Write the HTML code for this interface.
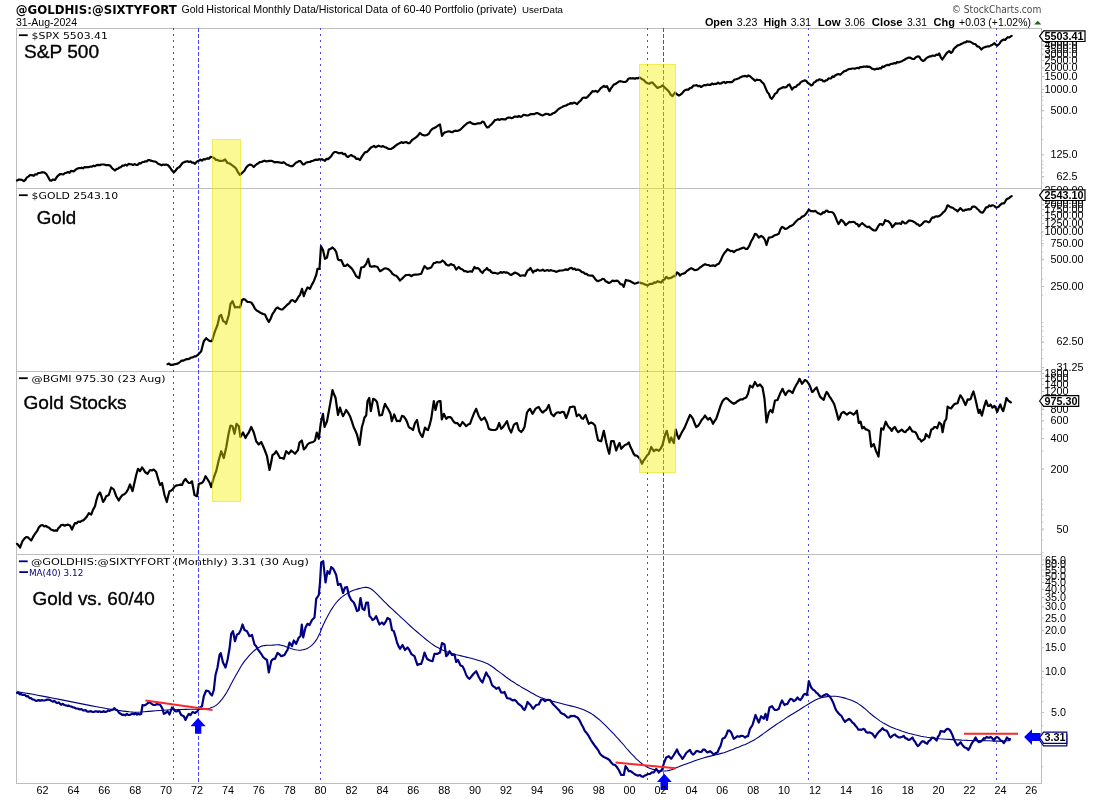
<!DOCTYPE html>
<html><head><meta charset="utf-8"><title>Gold vs 60/40</title>
<style>html,body{margin:0;padding:0;background:#fff}svg{display:block}.a{font-family:"Liberation Sans",Arial,sans-serif}.v{font-family:"DejaVu Sans",Verdana,sans-serif}.ax{font-family:"Liberation Sans",Arial,sans-serif;font-size:10px;fill:#000;text-anchor:end}.yr{font-family:"Liberation Sans",Arial,sans-serif;font-size:10px;fill:#000;text-anchor:middle}.lb{font-family:"Liberation Sans",Arial,sans-serif;font-size:10px;font-weight:bold;fill:#000}.big{font-family:"Liberation Sans",Arial,sans-serif;font-size:19px;fill:#000;stroke:#000;stroke-width:0.35px}.lg{font-family:"DejaVu Sans",Verdana,sans-serif;font-size:9px;fill:#000}</style></head><body>
<svg width="1100" height="800" viewBox="0 0 1100 800">
<rect width="1100" height="800" fill="#fff"/>
<text class="v" x="15.8" y="13.6" font-size="12.4" font-weight="bold" textLength="161" lengthAdjust="spacingAndGlyphs">@GOLDHIS:@SIXTYFORT</text>
<text class="a" x="181.5" y="13.2" font-size="11" textLength="22.3" lengthAdjust="spacingAndGlyphs">Gold</text>
<text class="a" x="206.3" y="13.2" font-size="11" textLength="44" lengthAdjust="spacingAndGlyphs">Historical</text>
<text class="a" x="253.3" y="13.2" font-size="11" textLength="37.3" lengthAdjust="spacingAndGlyphs">Monthly</text>
<text class="a" x="293.3" y="13.2" font-size="11" textLength="69.3" lengthAdjust="spacingAndGlyphs">Data/Historical</text>
<text class="a" x="365.3" y="13.2" font-size="11" textLength="22.8" lengthAdjust="spacingAndGlyphs">Data</text>
<text class="a" x="391.3" y="13.2" font-size="11" textLength="9" lengthAdjust="spacingAndGlyphs">of</text>
<text class="a" x="403.5" y="13.2" font-size="11" textLength="27.8" lengthAdjust="spacingAndGlyphs">60-40</text>
<text class="a" x="434.3" y="13.2" font-size="11" textLength="39.3" lengthAdjust="spacingAndGlyphs">Portfolio</text>
<text class="a" x="476.3" y="13.2" font-size="11" textLength="40.5" lengthAdjust="spacingAndGlyphs">(private)</text>
<text class="a" x="522" y="13" font-size="8.5" textLength="41" lengthAdjust="spacingAndGlyphs">UserData</text>
<text class="a" x="16" y="26" font-size="11" textLength="61" lengthAdjust="spacingAndGlyphs">31-Aug-2024</text>
<text class="v" x="951.8" y="12.7" font-size="10" fill="#484848" textLength="89.5" lengthAdjust="spacingAndGlyphs">© StockCharts.com</text>
<text class="a" x="704.9" y="25.7" font-size="11" font-weight="bold" textLength="27.8" lengthAdjust="spacingAndGlyphs">Open</text>
<text class="a" x="736.8" y="25.7" font-size="11" textLength="20.5" lengthAdjust="spacingAndGlyphs">3.23</text>
<text class="a" x="763.8" y="25.7" font-size="11" font-weight="bold" textLength="22.9" lengthAdjust="spacingAndGlyphs">High</text>
<text class="a" x="790.8" y="25.7" font-size="11" textLength="20.2" lengthAdjust="spacingAndGlyphs">3.31</text>
<text class="a" x="817.8" y="25.7" font-size="11" font-weight="bold" textLength="22.9" lengthAdjust="spacingAndGlyphs">Low</text>
<text class="a" x="844.8" y="25.7" font-size="11" textLength="20.2" lengthAdjust="spacingAndGlyphs">3.06</text>
<text class="a" x="871.8" y="25.7" font-size="11" font-weight="bold" textLength="30.9" lengthAdjust="spacingAndGlyphs">Close</text>
<text class="a" x="906.9" y="25.7" font-size="11" textLength="20" lengthAdjust="spacingAndGlyphs">3.31</text>
<text class="a" x="933.6" y="25.7" font-size="11" font-weight="bold" textLength="21.3" lengthAdjust="spacingAndGlyphs">Chg</text>
<text class="a" x="959.1" y="25.7" font-size="11" textLength="71.8" lengthAdjust="spacingAndGlyphs">+0.03 (+1.02%)</text>
<polygon points="1034,24.6 1041.4,24.6 1037.7,20.8" fill="#1c6b1c"/>
<g stroke="#bdbdbd" stroke-width="1" fill="none">
<rect x="16.5" y="28.5" width="1025.0" height="755.0"/>
<line x1="16.5" y1="188.5" x2="1041.5" y2="188.5"/>
<line x1="16.5" y1="371.5" x2="1041.5" y2="371.5"/>
<line x1="16.5" y1="554.5" x2="1041.5" y2="554.5"/>
</g>
<line x1="173.5" y1="28" x2="173.5" y2="783" stroke="#4646ff" stroke-width="1" stroke-dasharray="2 4"/>
<line x1="320.5" y1="28" x2="320.5" y2="783" stroke="#4646ff" stroke-width="1" stroke-dasharray="2 4"/>
<line x1="647.5" y1="28" x2="647.5" y2="783" stroke="#4646ff" stroke-width="1" stroke-dasharray="2 4"/>
<line x1="808.5" y1="28" x2="808.5" y2="783" stroke="#4646ff" stroke-width="1" stroke-dasharray="2 4"/>
<line x1="996.5" y1="28" x2="996.5" y2="783" stroke="#4646ff" stroke-width="1" stroke-dasharray="2 4"/>
<line x1="198.5" y1="28" x2="198.5" y2="783" stroke="#4646ff" stroke-width="1" stroke-dasharray="4 2"/>
<line x1="663.5" y1="28" x2="663.5" y2="783" stroke="#4646ff" stroke-width="1" stroke-dasharray="4 2"/>
<polyline points="17.0,180.5 18.5,179.7 20.0,179.5 21.9,179.8 23.8,181.2 25.3,179.9 26.9,177.4 28.4,176.6 30.0,175.0 31.9,175.1 33.8,175.8 35.2,174.3 36.8,174.5 38.2,173.0 39.8,173.0 41.2,172.5 42.9,172.2 44.6,172.6 46.2,173.8 48.1,177.0 50.0,180.5 51.5,180.6 53.0,179.5 55.0,180.0 56.9,176.9 58.8,175.0 60.3,174.0 61.9,174.2 63.4,174.3 65.0,173.0 66.5,172.8 68.0,172.1 69.5,172.8 71.0,170.8 72.5,171.2 74.0,171.3 75.5,169.7 77.0,168.8 78.5,168.2 80.0,168.2 81.5,167.7 83.0,168.3 84.5,167.0 86.0,167.4 87.5,167.0 89.0,167.1 90.5,166.5 92.0,166.6 93.5,165.7 95.0,166.2 96.6,165.1 98.1,164.9 99.7,165.2 101.2,164.5 102.7,164.5 104.2,164.5 105.6,165.1 107.1,165.1 108.5,165.0 110.0,165.5 111.7,167.7 113.3,169.2 115.0,170.5 116.5,169.1 118.0,168.6 119.5,167.5 121.0,167.1 122.5,165.5 124.0,165.6 125.5,164.6 127.0,165.6 128.5,163.9 130.0,164.2 131.5,164.3 133.0,165.0 134.5,164.1 136.0,164.8 137.5,165.0 139.2,163.2 140.8,163.3 142.5,162.0 143.9,162.0 145.3,161.3 146.7,161.4 148.1,160.1 149.5,160.0 150.8,160.7 152.2,161.0 153.6,161.3 154.9,161.5 156.2,162.0 158.1,163.8 160.0,164.5 161.6,165.3 163.1,164.5 164.7,164.8 166.2,164.5 168.1,165.3 170.0,167.5 171.9,170.3 173.8,172.5 175.6,170.5 177.5,168.0 179.2,167.2 180.8,165.2 182.5,163.0 184.2,162.1 185.8,161.6 187.5,161.2 189.0,162.0 190.5,161.4 192.0,162.7 193.5,162.7 195.0,163.8 196.9,161.6 198.8,160.8 200.3,159.7 201.9,160.6 203.4,159.2 205.0,159.5 206.4,158.6 207.8,158.3 209.2,158.6 210.6,156.8 212.0,157.0 213.4,157.7 214.8,158.6 216.1,159.9 217.5,160.0 219.4,160.9 221.2,160.8 223.1,160.7 225.0,159.5 227.5,163.0 229.4,163.4 231.2,164.5 232.9,165.8 234.6,167.1 236.2,168.8 238.1,172.5 240.0,175.0 242.5,172.5 244.4,170.8 246.2,167.5 248.1,165.4 250.0,164.5 251.9,165.2 253.8,167.0 255.3,165.3 256.9,164.0 258.4,163.2 260.0,162.0 261.5,162.0 263.0,161.3 264.5,160.7 266.0,161.3 267.5,161.2 270.0,160.8 271.5,160.8 273.0,161.4 274.5,162.3 276.0,162.1 277.5,162.0 279.0,162.3 280.5,162.7 282.0,163.0 283.5,162.2 285.0,163.2 286.5,164.5 288.0,164.9 289.5,165.7 291.0,166.2 292.5,166.2 294.4,164.2 296.2,162.5 297.7,161.9 299.1,161.0 300.5,161.2 303.0,164.5 304.4,164.2 305.8,162.8 307.2,162.3 308.6,162.0 310.0,162.0 311.5,161.0 313.0,160.9 314.5,160.0 316.0,159.6 317.5,160.0 319.0,159.2 320.5,159.5 322.0,159.2 323.5,160.1 325.0,160.8 326.6,158.8 328.1,159.1 329.7,157.6 331.2,156.2 332.9,153.5 334.5,152.0 335.9,152.0 337.3,152.6 338.8,153.2 340.3,153.1 341.9,152.9 343.4,154.2 345.0,153.8 346.5,156.2 348.0,157.0 349.6,155.9 351.2,155.0 352.9,156.2 354.6,156.8 356.2,158.8 358.1,158.7 360.0,160.0 361.9,156.6 363.8,153.8 365.4,152.1 367.1,151.8 368.8,150.0 370.6,147.8 372.5,146.8 374.0,145.8 375.5,147.3 377.0,146.5 378.5,145.7 380.0,146.2 381.6,146.6 383.1,146.1 384.7,147.2 386.2,147.5 387.9,148.7 389.6,149.0 391.2,148.8 393.1,147.8 395.0,146.2 396.7,144.8 398.3,143.9 400.0,143.0 401.6,142.2 403.1,143.0 404.7,142.3 406.2,142.0 407.9,143.1 409.5,143.2 410.9,141.5 412.3,139.8 413.8,138.8 415.3,137.8 416.9,136.7 418.4,135.0 420.0,133.0 421.7,134.4 423.3,135.2 425.0,135.5 426.9,135.0 428.8,133.8 430.6,130.8 432.5,128.8 434.4,127.9 436.2,127.0 438.1,125.5 440.0,124.5 442.0,135.8 443.4,133.7 444.8,132.4 446.2,132.0 447.8,131.5 449.2,131.3 450.8,131.9 452.2,132.2 453.8,131.2 455.2,130.7 456.8,131.0 458.2,130.6 459.8,130.0 461.2,128.8 462.8,127.3 464.2,125.8 465.8,124.5 467.2,123.2 468.8,122.5 470.2,122.2 471.8,123.2 473.2,123.9 474.8,124.1 476.2,123.8 477.8,123.4 479.2,123.3 480.8,123.2 482.2,121.6 483.8,122.0 485.4,125.0 487.0,127.5 488.5,127.2 490.0,125.5 491.7,124.1 493.3,122.3 495.0,120.0 496.5,119.8 498.0,119.2 499.5,120.0 501.0,119.1 502.5,119.2 504.0,119.4 505.5,119.4 507.0,118.0 508.5,117.7 510.0,117.5 511.5,118.2 513.0,117.7 514.5,116.6 516.0,116.5 517.5,117.0 519.0,116.0 520.5,116.9 522.0,116.3 523.5,114.8 525.0,115.0 526.5,115.4 528.0,115.5 529.5,114.8 531.0,114.1 532.5,114.2 534.1,114.2 535.6,113.4 537.2,113.0 538.8,113.8 541.2,115.0 542.9,115.4 544.6,114.4 546.2,113.8 547.9,114.0 549.6,115.0 551.2,114.5 552.8,113.3 554.4,112.9 555.9,111.7 557.5,110.0 559.0,108.7 560.5,107.9 562.0,107.1 563.5,106.2 565.0,105.8 566.5,105.4 567.9,104.3 569.4,104.0 570.8,103.0 572.3,103.7 573.8,102.5 575.4,103.1 577.0,104.2 578.4,102.6 579.8,101.3 581.1,100.2 582.5,98.0 584.2,97.5 585.8,98.0 587.5,97.0 589.2,95.1 590.8,93.2 592.5,91.2 594.2,91.5 595.8,90.9 597.5,92.0 599.2,90.2 600.8,88.1 602.5,87.0 604.0,85.9 605.5,87.0 607.0,86.2 609.5,91.2 610.9,88.4 612.3,86.7 613.8,84.5 615.3,84.1 616.9,83.0 618.4,81.8 620.0,81.2 621.7,81.5 623.3,81.8 625.0,82.0 626.7,81.2 628.3,78.8 630.0,78.2 631.7,78.5 633.3,78.2 635.0,78.8 636.5,78.0 638.0,78.4 639.5,77.5 640.9,78.3 642.3,79.3 643.8,80.0 645.6,82.1 647.5,83.2 649.2,83.7 650.8,82.7 652.5,82.5 654.2,84.5 655.8,86.2 657.5,88.0 659.2,87.2 660.8,86.7 662.5,85.5 664.2,86.9 665.8,88.6 667.5,90.0 669.2,92.0 670.8,94.9 672.5,96.2 675.0,92.5 676.9,94.3 678.8,95.5 680.4,94.7 682.1,93.4 683.8,91.2 685.3,90.0 686.9,89.7 688.4,89.6 690.0,88.0 691.7,87.7 693.3,85.7 695.0,85.5 696.6,85.2 698.1,86.2 699.7,85.9 701.2,87.0 702.8,85.9 704.4,85.0 705.9,85.4 707.5,84.5 709.0,84.8 710.5,84.9 712.0,83.5 713.5,84.3 715.0,83.8 716.5,83.8 718.0,82.6 719.5,83.7 721.0,83.5 722.5,82.5 724.0,81.9 725.5,83.1 727.0,82.0 728.5,82.1 730.0,82.0 731.5,82.2 733.0,81.3 734.5,79.5 736.0,79.3 737.5,78.8 739.1,78.2 740.6,77.2 742.2,76.4 743.8,76.2 745.3,75.9 746.9,76.6 748.4,75.4 750.0,76.2 751.7,77.8 753.3,79.1 755.0,80.8 756.7,79.7 758.3,80.0 760.0,80.0 761.9,82.1 763.8,83.8 765.6,88.1 767.5,92.5 768.9,93.8 770.3,97.5 771.8,98.8 773.4,96.7 775.0,93.8 776.7,92.9 778.3,89.7 780.0,88.8 781.7,87.9 783.3,87.1 785.0,87.5 786.5,87.0 788.0,85.1 789.5,84.5 792.0,89.5 793.4,87.7 794.8,87.1 796.1,86.8 797.5,85.0 799.2,84.3 800.8,82.1 802.5,81.2 804.4,80.4 806.2,80.8 807.9,83.0 809.6,84.0 811.2,85.5 812.6,84.7 813.9,82.5 815.3,82.0 816.6,80.3 817.9,80.5 819.2,79.3 820.5,79.8 821.9,79.8 823.2,81.2 824.5,81.4 825.8,80.3 827.2,80.1 828.5,78.3 829.8,78.5 831.1,78.4 832.4,76.3 833.8,76.9 835.1,75.5 836.4,74.8 837.7,74.2 839.0,74.2 840.3,74.6 841.6,73.5 842.9,72.3 844.2,71.2 845.6,71.0 846.9,70.1 848.2,69.4 849.5,69.0 850.8,68.9 852.2,68.5 853.5,68.5 854.8,68.8 856.1,68.2 857.4,67.8 858.8,68.3 860.1,67.2 861.4,67.2 862.7,66.9 864.0,66.5 865.3,66.8 866.7,66.4 868.0,66.9 869.3,66.6 870.6,67.5 871.9,68.6 873.3,69.0 874.6,69.6 876.5,68.7 878.5,68.8 879.8,68.2 881.2,68.4 882.5,66.4 883.8,67.0 885.2,65.8 886.5,65.3 887.8,64.9 889.1,65.1 890.5,64.0 891.8,63.8 893.1,63.7 894.4,63.0 895.7,63.5 897.0,62.0 898.3,62.5 899.7,62.0 901.0,61.5 902.3,60.9 903.6,60.2 904.9,59.6 906.2,58.5 907.6,58.1 908.9,57.5 910.2,57.7 912.2,58.8 914.1,59.0 915.4,57.7 916.8,56.7 918.1,56.4 919.4,56.8 920.8,59.2 922.1,60.4 923.4,60.9 924.7,60.2 926.0,58.5 927.3,57.5 928.6,56.9 929.9,56.3 931.2,56.3 932.6,55.5 933.9,55.8 935.2,55.6 936.5,54.5 937.9,55.0 939.2,53.5 940.8,57.3 942.3,59.5 944.0,57.0 945.8,54.3 947.5,52.3 949.2,51.1 951.0,53.0 952.3,52.0 953.7,49.1 955.0,47.7 956.3,46.7 957.6,45.3 959.0,45.1 960.3,44.5 961.6,43.7 962.9,43.3 964.2,42.4 965.6,42.4 966.9,41.2 968.2,41.6 969.5,41.7 970.9,42.0 972.2,43.0 973.5,43.7 975.5,44.3 977.4,46.4 978.7,46.6 980.1,48.1 981.4,49.5 983.3,47.7 985.3,46.9 986.6,46.7 988.0,46.3 989.3,46.4 990.6,45.6 992.5,44.7 994.5,43.2 995.9,44.8 997.2,45.6 999.2,44.0 1001.1,41.1 1002.4,40.3 1003.8,39.5 1005.1,40.0 1006.4,38.5 1007.7,37.2 1009.0,37.5 1010.4,36.7 1011.7,35.8" fill="none" stroke="#000" stroke-width="2.2" stroke-linejoin="round" stroke-linecap="round"/>
<polyline points="167.5,364.2 169.0,363.5 170.5,364.8 172.0,364.9 173.5,364.5 175.0,364.2 176.7,363.9 178.3,363.3 180.0,362.0 181.6,360.7 183.1,360.7 184.7,359.9 186.2,359.2 187.9,359.2 189.6,358.6 191.2,357.5 192.8,357.4 194.4,356.4 195.9,356.3 197.5,355.0 199.4,353.4 201.2,351.2 203.8,341.2 206.2,338.2 208.8,340.5 210.4,341.2 212.0,341.2 213.5,335.8 215.0,331.2 217.5,325.0 219.5,316.2 221.2,315.0 223.2,321.2 224.8,321.7 226.2,323.8 228.8,315.0 230.5,303.8 232.5,301.2 235.0,307.5 237.5,307.0 240.0,307.5 242.0,300.0 243.5,299.1 245.0,299.5 247.5,302.0 249.4,302.0 251.2,302.5 253.1,305.0 255.0,308.8 256.7,310.6 258.3,311.3 260.0,312.5 261.7,313.4 263.3,314.0 265.0,314.5 266.9,318.6 268.8,322.0 270.5,319.0 272.5,313.8 274.2,311.6 275.8,308.7 277.5,307.5 279.2,308.7 280.8,309.3 282.5,309.5 284.2,307.8 285.8,306.2 287.5,304.5 289.2,303.3 290.8,300.8 292.5,300.0 295.0,302.0 296.7,300.1 298.3,296.9 300.0,295.0 302.0,288.8 303.8,296.2 305.6,291.2 307.5,287.5 310.0,288.8 311.9,284.6 313.8,281.2 316.2,275.0 317.5,268.8 319.5,268.8 321.0,246.2 323.0,250.0 325.0,258.8 327.0,257.5 328.8,249.5 330.6,248.9 332.5,247.5 334.4,249.2 336.2,252.0 338.0,259.5 339.6,260.2 341.2,260.0 343.8,265.8 345.6,265.9 347.5,264.5 349.2,266.2 350.8,267.6 352.5,269.5 354.4,272.8 356.2,276.2 357.8,277.4 359.2,278.0 361.2,267.5 363.8,267.0 366.2,263.8 368.2,258.8 370.0,266.2 371.7,266.7 373.3,266.4 375.0,266.2 377.5,267.0 380.0,271.2 381.9,270.2 383.8,268.8 385.4,268.3 387.1,268.7 388.8,269.5 390.6,271.2 392.5,273.8 394.4,275.2 396.2,275.8 398.1,277.8 400.0,280.5 401.9,278.9 403.8,277.0 405.6,275.2 407.5,275.0 409.4,274.9 411.2,276.2 413.1,275.0 415.0,274.5 416.6,274.6 418.1,274.5 419.7,274.2 421.2,273.8 422.9,269.6 424.5,266.2 426.0,267.5 427.5,268.8 429.4,268.1 431.2,267.5 433.8,263.0 435.4,262.8 437.1,262.0 438.8,262.5 440.6,262.2 442.5,260.5 444.4,262.0 446.2,264.5 447.8,265.4 449.2,265.4 450.8,264.0 452.2,264.8 453.8,265.0 456.2,269.5 458.8,267.0 460.6,268.8 462.5,269.5 464.2,271.1 465.8,271.1 467.5,272.0 469.0,271.5 470.5,271.3 472.0,271.8 474.5,267.0 476.0,268.3 477.5,268.0 479.2,269.2 480.8,271.5 482.5,273.0 484.0,270.7 485.5,269.7 487.0,268.0 488.4,270.1 489.8,270.0 491.2,272.0 492.9,273.0 494.6,272.8 496.2,273.2 497.8,273.7 499.2,273.1 500.8,272.0 502.2,272.9 503.8,272.0 505.2,272.6 506.8,272.4 508.2,273.0 509.8,274.4 511.2,275.0 513.1,273.7 515.0,272.5 516.7,273.2 518.3,274.1 520.0,275.8 521.7,275.5 523.3,275.4 525.0,275.8 527.5,270.5 529.0,269.8 530.5,268.0 533.0,272.5 534.5,270.7 536.0,270.9 537.5,269.5 539.4,270.6 541.2,270.5 542.8,269.7 544.4,271.0 545.9,270.5 547.5,270.0 549.0,270.9 550.5,270.1 552.0,270.5 553.5,270.8 555.0,271.2 556.5,271.9 558.0,271.1 559.5,270.6 561.0,270.5 562.5,270.5 564.2,270.0 565.8,269.4 567.5,270.0 570.0,268.2 571.5,267.8 573.0,269.3 574.5,268.6 576.0,270.0 577.5,269.5 579.0,269.9 580.5,270.8 582.0,272.1 583.5,272.4 585.0,273.8 586.5,273.9 588.0,275.2 589.5,275.5 591.0,275.7 592.5,275.5 593.9,277.2 595.2,279.1 596.6,280.6 598.0,281.2 599.5,280.5 601.0,280.0 602.5,278.8 604.1,279.0 605.6,281.3 607.2,281.9 608.8,283.0 610.6,282.2 612.5,280.5 614.1,281.1 615.6,280.8 617.2,280.7 618.8,281.8 620.4,284.1 622.1,284.4 623.8,286.8 625.8,280.0 627.1,280.4 628.5,280.6 629.9,281.0 631.2,281.8 632.9,282.7 634.6,283.6 636.2,283.2 638.1,282.5 640.0,282.5 641.5,283.4 643.0,283.4 644.5,284.4 646.0,284.7 647.5,285.5 649.2,284.4 650.8,283.8 652.5,283.8 654.2,282.4 655.8,282.8 657.5,281.2 659.4,281.9 661.2,282.5 662.9,280.1 664.6,279.4 666.2,276.8 668.1,278.3 670.0,278.2 671.7,277.5 673.3,276.3 675.0,276.2 677.0,272.5 678.5,273.5 680.0,275.5 681.7,274.0 683.3,273.6 685.0,273.0 686.6,271.1 688.1,270.2 689.7,269.0 691.2,268.2 692.9,269.0 694.6,270.1 696.2,270.0 698.1,269.2 700.0,267.5 701.7,266.3 703.3,265.2 705.0,264.2 706.7,264.8 708.3,265.0 710.0,265.8 711.7,265.6 713.3,265.3 715.0,266.2 716.9,264.6 718.8,263.8 720.6,260.8 722.5,256.2 724.2,253.3 725.8,251.6 727.5,249.2 729.1,250.2 730.6,251.2 732.2,250.8 733.8,252.0 735.4,250.8 737.1,249.9 738.8,249.5 740.4,248.7 742.1,248.1 743.8,247.5 745.6,248.9 747.5,248.8 749.4,245.6 751.2,241.2 753.1,238.1 755.0,233.8 756.9,234.8 758.8,237.5 761.2,235.8 763.1,237.1 765.0,240.0 766.5,245.0 768.8,237.5 770.4,237.3 772.1,237.0 773.8,235.8 775.4,235.0 777.1,234.6 778.8,233.8 780.4,229.4 782.0,226.8 783.5,227.6 785.0,228.8 786.7,228.6 788.3,227.6 790.0,226.2 791.7,225.6 793.3,224.6 795.0,222.5 796.7,220.8 798.3,219.3 800.0,218.8 801.7,216.9 803.3,216.3 805.0,215.0 806.9,212.6 808.8,209.5 810.6,211.1 812.5,211.2 813.9,211.4 815.3,210.8 816.6,212.0 817.9,213.1 819.2,213.5 820.5,214.5 821.8,213.8 823.1,212.2 824.5,212.6 825.8,210.9 827.1,210.6 828.4,211.9 829.7,212.0 831.1,212.0 832.4,212.3 833.7,213.5 835.3,216.6 836.9,220.7 838.5,224.0 839.8,222.2 841.1,219.8 842.6,220.9 844.1,222.6 845.6,225.1 847.5,223.5 849.5,221.9 850.8,222.2 852.1,222.0 853.5,221.8 854.8,222.4 856.1,223.9 857.5,224.2 858.8,226.4 860.5,224.5 862.2,223.2 863.8,224.5 865.4,225.9 867.3,227.1 869.3,226.7 870.6,228.2 872.0,229.3 874.0,230.5 875.9,230.3 877.2,228.2 878.6,225.6 879.9,224.0 881.2,224.1 882.5,225.1 883.8,223.4 885.1,220.1 886.4,221.0 887.8,221.0 889.1,221.9 890.7,223.7 892.3,227.2 894.0,225.2 895.7,223.2 897.0,223.7 898.4,223.5 899.7,223.4 901.0,224.0 902.3,221.4 903.6,222.3 904.9,223.3 906.2,223.2 907.5,221.9 908.9,220.7 910.2,220.6 912.2,221.0 914.1,221.9 915.4,222.8 916.8,224.2 918.1,224.4 919.4,225.9 920.7,225.3 922.0,224.1 923.4,222.5 924.7,221.4 926.7,221.4 928.6,222.4 929.9,221.5 931.3,218.7 932.6,217.4 933.9,217.7 935.2,216.5 936.6,216.3 937.9,216.6 939.8,215.7 941.8,214.0 943.1,212.4 944.5,211.4 946.0,209.1 947.6,205.3 949.3,206.3 951.0,207.4 952.8,207.8 954.5,209.3 956.0,209.9 957.6,211.4 959.0,209.7 960.3,208.2 961.6,209.3 962.9,210.6 964.2,210.6 965.5,209.7 966.9,209.8 968.2,209.1 969.5,209.3 970.8,209.2 972.2,206.9 973.5,206.6 974.8,206.7 976.1,207.6 977.4,209.0 978.7,210.0 980.0,211.6 981.4,212.5 982.7,212.7 984.4,210.4 986.1,207.4 987.7,207.2 989.3,205.3 990.6,206.2 991.9,205.4 993.2,205.4 994.5,206.1 995.9,207.5 997.2,207.4 998.8,206.5 1000.3,204.8 1002.0,203.4 1003.8,203.5 1005.1,201.8 1006.4,199.5 1007.7,198.6 1009.0,198.2 1010.4,196.9 1011.7,196.1" fill="none" stroke="#000" stroke-width="2.2" stroke-linejoin="round" stroke-linecap="round"/>
<polyline points="17.0,543.8 18.5,545.3 20.0,547.5 22.5,541.2 24.4,538.6 26.2,537.0 27.9,537.3 29.6,539.0 31.2,540.5 33.1,536.9 35.0,533.8 36.9,531.4 38.8,527.5 40.6,525.6 42.5,525.0 44.2,526.5 45.8,525.8 47.5,527.0 49.2,527.8 50.8,529.5 52.5,530.0 54.0,530.8 55.5,530.4 57.0,530.8 58.4,528.1 59.8,526.9 61.2,525.0 62.9,524.8 64.6,525.7 66.2,525.0 68.1,524.7 70.0,525.5 72.0,529.5 73.5,526.0 75.0,523.0 76.7,523.3 78.3,521.5 80.0,522.0 81.7,520.8 83.3,520.4 85.0,518.8 86.9,516.5 88.8,513.2 91.2,514.5 93.1,509.6 95.0,506.2 96.5,499.8 98.0,495.0 100.0,492.5 101.5,496.5 103.0,502.0 104.6,499.8 106.2,496.2 108.8,495.0 111.2,487.5 113.8,489.5 116.2,496.2 118.8,500.5 120.6,497.3 122.5,495.0 124.4,494.2 126.2,492.5 128.1,489.2 130.0,484.5 132.5,491.2 134.4,482.9 136.2,475.0 138.0,468.8 140.0,471.2 142.0,467.5 143.5,469.4 145.0,472.0 147.5,473.8 150.0,470.0 151.9,470.5 153.8,469.5 156.2,472.0 158.1,478.7 160.0,485.0 162.0,483.0 164.5,495.0 166.8,502.0 168.1,496.2 169.5,491.2 171.0,490.7 172.5,489.5 175.0,486.2 176.9,485.3 178.8,485.0 180.4,484.6 182.0,485.0 183.8,481.0 185.5,478.8 187.1,481.3 188.8,483.0 190.4,482.8 192.0,481.2 194.5,495.0 197.0,496.2 198.8,483.8 200.6,483.4 202.5,482.5 204.0,480.1 205.5,476.2 208.0,480.0 209.6,482.7 211.2,487.0 213.8,477.5 216.2,471.2 218.8,460.0 221.2,451.2 223.8,458.0 226.2,447.5 228.8,432.5 230.5,425.5 232.5,426.2 234.5,433.8 236.5,423.8 238.8,426.2 240.5,437.0 243.0,432.5 245.5,438.0 247.1,434.8 248.8,432.5 251.2,427.0 253.8,432.5 256.2,441.2 258.8,444.5 261.2,442.0 262.9,445.7 264.5,449.5 267.0,456.2 269.5,470.0 271.0,463.3 272.5,455.0 274.4,453.9 276.2,451.2 278.1,454.4 280.0,458.0 281.9,458.0 283.8,458.8 286.2,451.2 288.8,453.8 291.2,450.5 293.1,452.0 295.0,453.8 296.5,451.9 298.0,450.0 299.5,442.5 301.8,440.5 303.8,449.5 305.6,447.7 307.5,444.5 309.4,443.0 311.2,442.5 313.1,442.0 315.0,440.5 316.8,432.5 318.8,438.8 320.8,423.0 323.0,413.8 324.5,427.0 327.0,421.2 329.5,407.5 331.0,399.2 332.5,390.0 334.0,394.3 335.5,397.5 338.0,415.0 340.0,407.5 341.5,412.3 343.0,416.2 344.6,413.3 346.2,410.0 348.1,412.8 350.0,416.2 351.9,421.6 353.8,427.5 355.4,430.8 357.0,434.5 359.5,445.0 361.8,427.5 363.1,423.0 364.5,417.5 366.2,415.5 367.5,401.2 369.2,398.0 370.8,411.2 373.2,398.8 375.1,399.7 377.0,402.0 379.5,415.5 382.0,415.0 383.5,408.9 385.0,403.8 386.5,406.7 388.0,408.8 390.5,413.8 391.8,421.2 394.2,414.5 396.8,421.2 398.4,420.8 400.0,421.2 402.0,415.8 403.8,416.5 405.5,418.8 407.1,422.1 408.8,427.0 410.2,428.1 411.6,428.7 413.0,430.0 415.0,423.0 417.0,420.0 419.2,431.2 420.9,434.9 422.5,437.0 425.0,427.5 426.5,429.4 428.0,430.0 429.6,425.2 431.2,418.8 433.8,401.2 435.5,410.0 437.5,402.0 439.0,401.2 440.5,401.2 441.8,419.5 443.8,413.8 446.2,418.8 448.1,417.2 450.0,417.0 451.5,418.1 453.0,420.7 454.5,422.5 456.0,423.2 457.5,423.2 460.0,426.2 462.5,422.0 464.4,424.0 466.2,426.2 468.1,424.5 470.0,423.8 471.9,418.6 473.8,413.8 476.2,408.8 478.8,416.2 481.2,420.0 482.9,419.0 484.5,417.5 487.0,422.5 488.8,428.8 490.6,429.7 492.5,430.0 494.0,430.0 495.5,429.8 497.0,428.8 499.2,423.0 501.2,428.8 502.9,427.2 504.5,425.0 507.0,421.2 509.2,428.8 511.2,432.5 513.8,425.0 515.4,423.5 517.0,423.2 518.8,430.0 521.2,432.0 522.9,430.1 524.5,427.0 527.0,412.5 528.5,410.3 530.0,408.8 532.5,413.8 534.0,411.4 535.5,408.8 537.1,407.7 538.8,407.0 540.6,410.2 542.5,412.5 543.0,412.5 544.6,410.7 546.2,410.0 548.8,405.0 551.2,413.8 553.8,416.2 555.4,413.9 557.0,412.5 558.5,412.3 560.0,413.0 561.9,411.9 563.8,412.0 566.2,418.0 568.1,413.2 570.0,407.0 571.5,407.0 573.0,406.5 574.5,406.8 576.8,416.2 578.8,414.5 580.2,415.7 581.6,418.2 583.0,418.8 585.5,415.0 587.1,419.4 588.8,423.8 591.2,422.5 593.1,423.5 595.0,425.5 596.5,433.3 598.0,440.0 599.6,440.9 601.2,441.2 603.8,430.8 606.2,442.5 607.8,449.0 609.2,453.8 611.2,441.2 613.8,441.2 616.2,450.5 617.9,446.1 619.5,443.0 621.2,448.8 623.1,446.8 625.0,445.0 626.9,444.3 628.8,442.5 630.4,446.8 632.0,450.0 633.5,453.5 635.0,455.5 636.9,455.7 638.8,457.5 640.4,460.3 642.0,463.8 643.5,460.6 645.0,458.8 646.9,455.7 648.8,453.8 651.2,447.0 653.8,451.2 656.2,449.5 658.8,450.8 660.6,448.7 662.5,445.0 665.0,435.0 666.8,430.8 668.1,436.8 669.5,442.5 671.2,437.5 673.8,443.0 675.8,429.5 677.2,434.9 678.8,438.8 680.6,434.8 682.5,431.2 684.4,428.1 686.2,423.8 688.1,419.3 690.0,415.0 691.5,416.5 693.0,418.8 694.6,423.3 696.2,427.0 698.1,425.8 700.0,423.0 701.7,419.8 703.3,418.2 705.0,415.5 706.5,417.7 708.0,419.5 710.0,418.0 711.5,420.4 713.0,423.8 714.6,421.0 716.2,418.8 718.8,411.2 720.6,405.6 722.5,401.2 724.4,399.1 726.2,398.0 728.1,399.2 730.0,401.2 731.9,402.7 733.8,403.8 735.6,402.8 737.5,401.2 739.2,400.2 740.8,399.3 742.5,399.5 744.4,398.2 746.2,397.5 748.0,393.8 750.0,385.5 752.5,387.5 755.0,382.0 757.5,386.2 760.0,384.5 762.5,387.5 764.5,398.8 766.5,422.5 768.8,412.5 770.5,410.0 772.5,412.5 775.0,400.5 777.5,400.0 780.0,393.8 782.5,388.8 784.0,392.2 785.5,395.0 787.1,392.2 788.8,390.5 790.6,391.4 792.5,393.0 794.4,388.5 796.2,385.0 797.9,382.4 799.5,378.8 802.0,383.8 803.5,382.0 805.0,380.0 806.9,381.1 808.8,383.8 810.4,387.2 812.0,392.0 813.2,391.4 814.9,389.2 816.6,387.4 818.3,392.1 820.0,396.6 821.9,398.4 823.7,399.8 825.2,395.2 826.6,391.9 827.9,393.4 829.3,396.3 830.6,398.0 832.5,401.1 834.3,404.5 835.7,409.2 837.1,414.4 838.5,419.8 839.8,417.6 841.1,413.8 842.4,412.5 843.7,411.9 845.3,413.4 846.9,414.6 848.5,413.3 850.1,412.5 851.8,413.4 853.5,414.6 855.2,413.2 856.9,410.6 858.8,423.0 860.6,421.7 862.2,428.3 864.0,427.0 865.4,429.1 866.7,429.6 869.3,430.9 871.2,446.7 873.8,444.1 875.9,450.7 877.2,453.5 878.5,456.7 879.9,442.0 881.2,428.3 883.3,429.6 885.7,421.7 887.2,424.7 888.6,427.0 890.2,428.4 891.7,430.9 893.3,428.1 894.9,427.0 896.6,430.3 898.3,432.2 900.0,430.8 901.7,429.6 903.5,431.4 905.4,432.2 906.8,430.3 908.3,429.4 909.7,427.0 912.3,431.4 913.9,431.7 915.5,432.2 917.0,434.9 918.6,438.8 920.0,439.3 921.3,441.5 923.0,440.2 924.7,438.8 926.0,434.1 927.6,436.0 929.2,437.5 931.3,429.6 932.8,429.0 934.4,427.0 935.8,427.0 937.1,428.3 939.2,422.5 941.3,424.3 942.6,432.2 944.5,421.7 946.3,419.0 947.6,406.7 949.3,407.8 951.0,408.5 952.8,406.0 954.5,404.0 956.0,403.6 957.6,403.2 959.0,398.6 960.3,395.3 961.6,396.9 962.9,399.3 964.2,402.2 965.5,405.1 967.7,399.3 969.2,399.7 970.8,398.7 972.1,394.4 973.5,391.4 974.8,396.6 976.1,401.9 977.4,408.0 978.7,413.0 980.0,409.8 981.9,415.6 984.0,407.2 986.1,400.6 988.0,405.9 989.3,406.0 990.6,404.5 992.4,407.7 994.5,405.9 995.9,408.4 997.2,411.9 998.8,407.6 1000.3,404.5 1001.8,408.6 1003.2,411.1 1004.8,405.4 1006.4,398.0 1008.3,400.6 1009.6,401.5 1010.9,402.4" fill="none" stroke="#000" stroke-width="2.2" stroke-linejoin="round" stroke-linecap="round"/>
<polyline points="17.0,691.8 17.8,691.9 19.4,692.1 21.9,692.5 25.1,693.0 28.8,693.6 32.9,694.3 37.5,695.2 42.5,696.1 47.8,697.1 53.4,698.2 59.4,699.4 65.6,700.6 71.9,701.9 78.1,703.1 84.4,704.4 90.6,705.6 96.6,706.8 102.2,707.8 107.5,708.7 112.5,709.5 117.2,710.2 121.6,710.9 125.6,711.4 129.4,711.8 133.1,712.1 136.9,712.2 140.6,712.0 144.4,711.7 148.1,711.4 151.9,711.1 155.6,710.8 159.4,710.5 163.1,710.2 166.9,710.0 170.6,709.8 174.4,709.7 178.1,709.6 181.9,709.5 185.6,709.4 189.4,709.3 192.8,709.3 195.9,709.3 198.8,709.2 201.2,709.2 203.6,709.1 205.8,708.9 207.8,708.6 209.7,708.2 211.4,707.6 213.0,707.0 214.4,706.4 215.6,705.6 216.9,704.7 218.1,703.6 219.4,702.3 220.6,700.9 221.9,699.4 223.1,697.7 224.4,695.9 225.6,694.1 226.9,692.0 228.1,689.8 229.4,687.5 230.6,685.0 231.9,682.6 233.1,680.2 234.4,678.0 235.6,675.8 236.9,673.6 238.1,671.4 239.4,669.2 240.6,667.0 241.9,665.0 243.1,663.1 244.4,661.4 245.6,659.8 246.9,658.3 248.1,656.9 249.4,655.4 250.6,654.1 251.9,652.8 253.1,651.6 254.4,650.5 255.6,649.5 256.9,648.6 258.1,647.8 259.4,647.2 260.6,646.6 261.9,646.1 263.1,645.8 264.4,645.6 265.6,645.4 266.8,645.3 268.0,645.3 269.2,645.2 270.3,645.2 271.6,645.2 273.0,645.1 274.5,645.0 276.2,644.8 277.9,644.8 279.5,644.9 281.1,645.2 282.7,645.6 284.3,646.1 286.0,646.7 287.8,647.4 289.7,648.1 291.6,648.8 293.4,649.3 295.3,649.7 297.2,650.0 299.1,650.2 300.9,650.1 302.8,649.8 304.7,649.4 306.5,648.8 308.2,647.9 309.8,646.9 311.4,645.6 312.9,644.2 314.3,642.7 315.6,640.9 316.9,639.1 318.0,637.0 319.1,634.8 320.2,632.5 321.1,630.0 322.1,627.5 323.2,625.0 324.4,622.5 325.6,620.0 326.9,617.6 328.1,615.2 329.4,613.0 330.6,610.8 332.0,608.6 333.4,606.5 334.8,604.5 336.4,602.5 338.0,600.7 339.5,599.1 341.1,597.6 342.7,596.4 344.3,595.2 346.0,594.1 347.8,593.0 349.7,592.0 351.6,591.1 353.4,590.3 355.3,589.7 357.2,589.1 359.0,588.6 360.7,588.2 362.3,587.8 363.9,587.5 365.4,587.3 366.8,587.4 368.1,587.7 369.4,588.1 370.7,588.8 372.1,589.7 373.6,590.9 375.2,592.3 377.0,594.1 379.0,596.1 381.2,598.4 383.8,601.1 386.4,603.7 389.2,606.5 392.2,609.2 395.3,612.0 398.4,614.9 401.6,617.8 404.7,620.7 407.8,623.6 410.9,626.5 414.1,629.3 417.2,632.0 420.3,634.7 423.3,637.2 426.1,639.5 428.8,641.6 431.2,643.4 433.8,645.2 436.2,646.7 438.8,648.1 441.2,649.4 443.8,650.5 446.2,651.5 448.8,652.5 451.2,653.3 453.8,654.0 456.2,654.7 458.8,655.3 461.2,655.9 463.8,656.5 466.2,657.1 468.8,657.7 471.2,658.3 473.8,659.0 476.2,659.7 478.8,660.5 481.2,661.3 483.4,662.0 485.3,662.8 486.9,663.4 488.1,664.1 489.7,665.0 491.6,666.2 493.8,667.8 496.2,669.7 498.8,671.6 501.2,673.4 503.8,675.3 506.2,677.2 508.8,679.0 511.2,680.7 513.8,682.3 516.2,683.9 518.8,685.4 521.2,686.9 523.8,688.4 526.2,689.8 528.8,691.3 531.2,692.7 533.8,694.1 536.2,695.4 538.8,696.7 541.2,697.7 543.8,698.6 546.2,699.4 549.1,700.2 552.2,701.1 555.6,702.0 559.4,703.0 563.1,704.0 566.9,705.0 570.6,705.9 574.4,706.8 577.8,707.8 580.9,708.8 583.8,709.8 586.2,710.9 588.8,712.2 591.2,713.6 593.8,715.3 596.2,717.2 598.8,719.2 601.2,721.4 603.8,723.8 606.2,726.2 608.8,728.8 611.2,731.3 613.8,733.9 616.2,736.6 618.8,739.3 621.2,742.1 623.8,745.0 626.2,748.0 628.8,750.9 631.2,753.6 633.8,756.2 636.2,758.8 638.6,760.9 640.8,762.8 642.8,764.4 644.7,765.6 646.6,766.7 648.4,767.7 650.3,768.4 652.2,769.1 654.1,769.6 655.9,770.1 657.8,770.5 659.7,770.8 661.6,771.0 663.4,771.0 665.3,771.0 667.2,770.8 669.2,770.4 671.4,769.8 673.8,768.9 676.2,767.8 678.8,766.8 681.2,765.8 683.8,764.8 686.2,763.9 688.9,762.9 691.7,761.9 694.7,760.8 697.8,759.7 700.9,758.7 704.1,757.7 707.2,756.9 710.3,756.1 713.3,755.4 716.1,754.7 718.8,754.1 721.2,753.4 723.9,752.7 726.7,751.7 729.7,750.6 732.8,749.4 735.9,748.1 739.1,746.9 742.2,745.6 745.3,744.4 748.3,743.0 751.1,741.6 753.8,740.2 756.2,738.6 758.8,737.0 761.2,735.2 763.8,733.4 766.2,731.6 768.8,729.7 771.2,728.0 773.8,726.2 776.2,724.5 778.8,722.9 781.2,721.2 783.8,719.6 786.2,717.9 788.8,716.3 791.2,714.8 793.8,713.2 796.2,711.8 798.7,710.3 801.0,708.8 803.3,707.3 805.5,705.9 807.8,704.5 810.2,703.0 812.7,701.5 815.4,700.0 818.2,698.8 821.1,697.8 824.1,697.1 827.2,696.6 830.1,696.3 832.9,696.2 835.4,696.3 837.7,696.5 840.3,697.0 843.0,697.6 845.9,698.4 849.1,699.4 852.0,700.5 854.7,701.8 857.3,703.1 859.6,704.6 861.9,706.3 864.3,708.2 866.6,710.2 869.0,712.3 871.5,714.5 874.3,716.7 877.2,718.9 880.3,721.1 883.4,723.1 886.6,724.8 889.7,726.4 892.8,727.7 895.9,729.0 899.1,730.1 902.2,731.2 905.3,732.2 908.4,733.2 911.6,734.0 914.7,734.8 917.8,735.5 920.9,736.2 924.1,736.8 927.2,737.3 930.3,737.7 933.4,738.1 936.6,738.5 939.7,738.8 942.8,739.0 945.9,739.2 949.1,739.4 952.2,739.6 955.3,739.8 958.4,739.9 961.6,740.1 964.7,740.2 967.8,740.4 970.9,740.5 974.1,740.6 977.2,740.6 980.3,740.6 983.4,740.6 986.6,740.7 989.7,740.8 992.8,741.0 995.9,741.1 999.1,741.1 1002.2,741.0 1005.3,740.8 1007.7,740.7 1009.2,740.6 1010.0,740.6" fill="none" stroke="#000080" stroke-width="1.1" stroke-linejoin="round" stroke-linecap="round"/>
<polyline points="17.0,693.0 18.3,692.6 19.7,694.4 21.0,693.8 22.3,695.0 23.7,694.9 25.0,695.0 26.5,696.5 28.0,696.2 29.5,698.2 31.0,698.1 32.5,699.5 34.0,699.6 35.5,700.6 37.0,700.8 38.5,700.0 40.0,700.8 41.4,700.2 42.9,700.4 44.3,700.5 45.7,700.1 47.1,699.6 48.6,699.7 50.0,700.0 51.4,700.9 52.9,701.7 54.3,700.8 55.7,702.2 57.1,703.1 58.6,702.4 60.0,703.8 61.4,704.7 62.9,703.8 64.3,705.0 65.7,705.3 67.1,705.8 68.6,705.6 70.0,706.2 71.4,706.6 72.9,707.3 74.3,707.5 75.7,708.4 77.1,708.5 78.6,708.9 80.0,709.5 81.4,709.0 82.8,710.3 84.2,710.3 85.6,710.2 86.9,711.3 88.3,711.6 89.7,711.4 91.1,711.2 92.5,712.0 93.9,712.0 95.3,711.3 96.7,711.4 98.1,711.9 99.4,711.3 100.8,711.9 102.2,712.0 103.6,711.2 105.0,712.0 106.6,711.7 108.1,710.3 109.7,710.9 111.2,710.0 112.9,709.6 114.5,708.2 115.9,709.7 117.3,710.3 118.8,712.5 120.6,713.8 122.5,715.0 123.9,714.6 125.4,715.4 126.8,713.8 128.2,714.9 129.6,715.0 131.1,714.3 132.5,713.8 134.0,714.3 135.4,713.2 136.9,714.6 138.3,713.7 139.8,714.5 141.2,713.8 142.5,705.0 144.4,705.5 146.2,704.5 148.1,702.9 150.0,702.5 151.7,703.8 153.3,704.9 155.0,705.0 156.7,704.1 158.3,704.4 160.0,704.5 162.5,708.8 163.8,713.8 165.6,712.9 167.5,711.2 169.5,714.5 172.0,707.5 173.5,708.8 175.0,711.2 176.9,711.3 178.8,710.0 181.2,715.0 183.8,716.2 185.5,720.0 187.1,716.5 188.8,713.8 190.5,715.0 192.5,712.0 195.0,713.0 197.5,711.2 200.0,707.5 202.0,706.2 203.8,696.2 206.2,690.5 208.8,691.2 210.4,693.9 212.0,695.5 213.8,690.0 215.5,675.0 217.5,667.5 219.5,655.0 220.8,653.2 223.0,662.5 225.5,667.5 227.5,660.0 229.5,648.8 231.2,633.8 233.0,631.2 235.0,641.2 237.0,634.5 238.8,633.8 240.8,630.0 242.5,624.5 244.5,630.0 247.0,631.2 249.5,636.2 252.0,635.0 254.5,644.5 256.0,646.0 257.5,648.8 259.4,651.3 261.2,653.8 263.1,657.0 265.0,658.8 267.0,660.0 268.8,672.5 271.2,661.2 272.0,660.0 273.5,658.9 275.0,658.8 277.5,653.0 279.4,654.2 281.2,656.2 282.9,655.6 284.5,655.0 286.0,652.2 287.5,650.0 289.5,642.5 292.0,646.2 293.8,640.5 296.2,643.8 298.8,637.5 300.5,636.2 301.8,624.5 303.2,637.5 305.5,627.5 307.5,623.8 309.5,625.0 312.0,620.0 314.5,617.5 316.2,598.8 318.8,595.0 320.0,582.5 321.2,562.5 323.2,561.2 325.5,582.5 327.5,571.2 329.5,573.8 331.2,567.0 332.9,568.3 334.5,571.2 336.2,575.0 338.0,585.0 340.5,583.8 343.0,593.0 345.0,587.5 347.0,587.0 348.8,595.0 351.2,600.0 353.8,602.5 355.4,606.3 357.0,611.2 358.8,610.0 360.5,598.0 362.5,608.8 364.5,610.0 366.2,602.5 368.0,602.5 369.5,616.2 371.0,617.5 372.5,620.0 374.4,618.9 376.2,616.2 377.9,620.7 379.5,624.5 382.0,622.5 383.8,624.5 385.6,621.9 387.5,618.0 390.0,619.5 392.0,630.0 393.8,631.2 395.4,636.3 397.0,642.5 398.5,646.1 400.0,648.8 402.5,645.0 405.0,650.0 407.5,647.5 409.4,650.0 411.2,653.8 412.9,655.1 414.5,656.2 416.0,660.9 417.5,665.0 419.4,664.1 421.2,663.8 422.9,658.8 424.5,652.5 427.0,658.8 428.5,659.7 430.0,660.5 432.5,661.2 434.5,653.8 436.0,653.9 437.5,653.8 440.0,652.5 442.0,643.0 444.5,644.5 446.2,656.2 447.9,654.4 449.5,651.2 452.0,655.0 454.5,654.5 456.2,662.0 458.0,660.0 460.5,665.5 462.5,666.2 464.4,670.0 466.2,675.0 467.9,677.7 469.5,678.8 471.2,676.8 473.0,674.5 474.6,672.7 476.2,671.2 478.8,677.0 480.6,680.3 482.5,682.5 484.4,677.1 486.2,672.5 487.9,675.8 489.5,677.5 492.0,685.0 493.4,686.4 494.8,687.3 496.2,688.8 498.8,687.5 501.2,692.5 502.9,692.7 504.5,692.0 507.0,698.0 508.4,698.4 509.8,698.5 511.2,699.5 512.9,700.5 514.6,699.9 516.2,701.2 518.1,703.7 520.0,705.0 521.5,706.2 523.0,708.6 524.5,710.0 526.0,706.8 527.5,702.0 529.0,703.6 530.5,705.0 531.9,707.2 533.2,708.8 534.8,706.6 536.2,705.0 538.8,704.5 541.2,699.5 543.1,699.5 545.0,701.2 546.7,700.0 548.3,699.8 550.0,700.0 551.9,702.7 553.8,705.0 555.6,706.8 557.5,708.8 559.2,710.4 560.8,712.8 562.5,713.8 564.2,714.4 565.8,715.8 567.5,717.5 569.2,717.3 570.8,715.9 572.5,716.2 574.2,715.8 575.8,716.8 577.5,717.5 579.4,720.0 581.2,723.8 583.1,727.3 585.0,731.2 586.9,733.3 588.8,736.2 590.6,739.5 592.5,742.5 594.4,745.2 596.2,747.5 598.1,750.1 600.0,753.8 601.9,755.6 603.8,757.0 605.6,757.8 607.5,758.8 609.4,760.0 611.2,762.5 613.1,764.5 615.0,765.0 616.9,767.1 618.8,770.0 621.2,775.0 623.8,775.0 625.5,766.2 627.1,768.2 628.8,771.2 630.6,771.2 632.5,772.5 634.4,774.0 636.2,775.0 638.1,775.6 640.0,775.0 641.5,776.4 643.0,776.8 644.6,775.7 646.2,775.0 648.1,774.0 650.0,773.8 651.9,772.3 653.8,772.5 656.2,768.8 658.8,772.5 660.4,771.2 662.0,769.5 664.2,762.5 666.2,757.5 668.8,756.2 671.2,758.8 673.8,755.0 675.4,752.4 677.0,749.5 678.8,753.8 680.6,756.0 682.5,758.8 684.4,756.1 686.2,753.0 688.1,751.4 690.0,750.0 691.5,753.0 693.0,754.5 694.6,753.3 696.2,751.2 698.1,751.2 700.0,752.0 701.5,751.9 703.0,749.6 704.5,749.5 706.0,751.1 707.5,752.5 710.0,751.2 711.9,752.7 713.8,754.5 715.6,753.1 717.5,752.5 719.0,748.6 720.5,746.2 722.5,738.8 725.0,737.5 726.5,734.5 728.0,730.5 729.6,730.7 731.2,732.5 733.8,738.8 735.6,737.6 737.5,736.2 739.4,736.7 741.2,735.8 743.1,736.0 745.0,737.5 746.5,736.4 748.0,736.2 750.0,728.8 752.5,725.0 754.0,720.2 755.5,715.0 757.1,718.8 758.8,722.5 761.2,716.2 763.8,718.8 765.5,713.8 767.0,720.0 769.5,707.5 772.0,706.2 773.5,708.4 775.0,710.0 776.9,709.9 778.8,708.8 780.4,704.1 782.0,700.5 784.5,705.0 786.0,704.1 787.5,703.8 789.0,700.9 790.5,698.8 792.1,699.2 793.8,701.2 795.6,700.0 797.5,697.5 799.0,699.2 800.5,700.0 802.1,697.6 803.8,694.5 805.4,693.9 807.0,695.0 808.8,681.2 811.2,687.5 813.0,689.6 814.7,690.6 816.2,692.6 817.8,693.7 819.4,695.7 820.9,696.9 822.5,696.2 824.0,695.2 825.6,694.4 827.2,694.4 828.8,695.8 830.3,697.3 831.9,700.0 833.5,703.4 835.0,707.7 836.6,710.9 838.1,712.8 839.7,714.6 841.2,715.6 843.1,719.1 845.0,721.9 846.3,720.5 847.7,719.9 849.0,718.8 850.6,720.2 852.2,722.3 853.8,723.4 855.3,725.5 856.9,727.2 858.4,729.7 860.0,729.6 861.5,729.9 863.1,728.8 864.7,729.6 866.2,732.1 867.8,732.8 869.4,732.3 870.9,733.0 872.5,733.8 875.0,737.5 876.9,734.3 878.8,731.9 880.6,730.4 882.5,728.1 883.9,729.7 885.2,730.2 886.6,730.6 887.9,732.6 889.3,735.8 890.6,737.5 892.1,736.2 893.5,735.0 895.0,734.4 896.4,736.1 897.7,736.7 899.1,737.5 900.6,737.3 902.2,736.7 903.8,735.9 905.3,738.1 906.9,738.6 908.4,740.0 909.8,739.7 911.1,738.7 912.5,737.5 913.8,740.3 915.1,741.8 916.5,744.4 917.8,746.2 919.4,744.7 920.9,742.6 922.5,741.2 924.1,741.6 925.6,743.1 927.2,743.8 928.8,740.9 930.3,740.3 931.9,737.5 933.5,737.9 935.0,738.8 936.6,740.6 937.9,736.8 939.3,735.1 940.6,731.2 942.5,731.3 944.4,731.9 946.0,729.7 947.5,728.8 949.0,729.2 950.6,731.2 952.2,734.4 953.8,739.1 955.6,742.5 957.5,745.3 959.0,744.0 960.6,742.2 962.0,744.3 963.3,746.1 964.7,747.5 966.5,748.0 968.4,750.0 969.8,747.6 971.1,744.6 972.5,742.2 974.0,740.4 975.6,737.5 977.2,740.4 978.8,742.2 980.6,741.8 982.5,740.0 983.9,738.2 985.2,738.6 986.6,736.9 987.9,737.6 989.3,737.7 990.6,736.9 992.2,738.1 993.8,740.6 995.3,738.2 996.9,736.9 998.8,738.1 1000.6,740.6 1002.2,741.1 1003.8,743.1 1005.3,740.9 1006.9,737.5 1008.5,738.8 1010.0,739.1" fill="none" stroke="#000080" stroke-width="2.2" stroke-linejoin="round" stroke-linecap="round"/>
<rect x="212.5" y="139.5" width="28" height="362" fill="#f4f000" fill-opacity="0.42" stroke="#e6e000" stroke-opacity="0.55" stroke-width="1"/>
<rect x="639.5" y="64.5" width="36" height="408" fill="#f4f000" fill-opacity="0.42" stroke="#e6e000" stroke-opacity="0.55" stroke-width="1"/>
<g stroke="#f52a2a" stroke-width="2" stroke-linecap="butt">
<line x1="145.5" y1="700.5" x2="212.5" y2="710"/>
<line x1="615.5" y1="762.5" x2="675.8" y2="768.3"/>
<line x1="964" y1="733.8" x2="1018" y2="733.8"/>
</g>
<g fill="#0000ff">
<polygon points="198,718 205.8,726.3 201.3,726.3 201.3,733.8 195,733.8 195,726.3 190.5,726.3"/>
<polygon points="664.3,773.8 671.8,782 668,782 668,790 660.5,790 660.5,782 657,782"/>
<polygon points="1024.1,737.1 1032,729.3 1032,733 1040.6,733 1040.6,741.1 1032,741.1 1032,744.9"/>
</g>
<line x1="18.9" y1="35.2" x2="27.7" y2="35.2" stroke="#000" stroke-width="1.8"/>
<text class="lg" x="31.6" y="39" fill="#000" font-size="9" textLength="76.3" lengthAdjust="spacingAndGlyphs" style="fill:#000">$SPX 5503.41</text>
<line x1="18.9" y1="195.2" x2="27.7" y2="195.2" stroke="#000" stroke-width="1.8"/>
<text class="lg" x="31.6" y="199" fill="#000" font-size="9" textLength="86.5" lengthAdjust="spacingAndGlyphs" style="fill:#000">$GOLD 2543.10</text>
<line x1="18.9" y1="378.2" x2="27.7" y2="378.2" stroke="#000" stroke-width="1.8"/>
<text class="lg" x="31.6" y="382" fill="#000" font-size="9" textLength="134" lengthAdjust="spacingAndGlyphs" style="fill:#000">@BGMI 975.30 (23 Aug)</text>
<line x1="18.9" y1="561.3000000000001" x2="27.7" y2="561.3000000000001" stroke="#000080" stroke-width="1.8"/>
<text class="lg" x="30.9" y="565.1" fill="#000" font-size="9" textLength="278" lengthAdjust="spacingAndGlyphs" style="fill:#000">@GOLDHIS:@SIXTYFORT (Monthly) 3.31 (30 Aug)</text>
<line x1="19.3" y1="572.1" x2="28" y2="572.1" stroke="#000080" stroke-width="1.8"/>
<text class="v" x="28.9" y="575.6" font-size="9" fill="#000080" textLength="54.4" lengthAdjust="spacingAndGlyphs">MA(40) 3.12</text>
<text class="big" x="24" y="58.3" textLength="75" lengthAdjust="spacingAndGlyphs">S&amp;P 500</text>
<text class="big" x="36.7" y="223.8" textLength="39.6" lengthAdjust="spacingAndGlyphs">Gold</text>
<text class="big" x="23.5" y="409" textLength="103" lengthAdjust="spacingAndGlyphs">Gold Stocks</text>
<text class="big" x="32.6" y="604.7" textLength="122.2" lengthAdjust="spacingAndGlyphs">Gold vs. 60/40</text>
<text class="ax" x="1077.6" y="45.0" textLength="33.0" lengthAdjust="spacingAndGlyphs">4500.0</text>
<line x1="1041.5" y1="41.5" x2="1044.1" y2="41.5" stroke="#bdbdbd" stroke-width="1"/>
<text class="ax" x="1077.6" y="48.5" textLength="33.0" lengthAdjust="spacingAndGlyphs">4000.0</text>
<line x1="1041.5" y1="45" x2="1044.1" y2="45" stroke="#bdbdbd" stroke-width="1"/>
<text class="ax" x="1077.6" y="52.5" textLength="33.0" lengthAdjust="spacingAndGlyphs">3500.0</text>
<line x1="1041.5" y1="49" x2="1044.1" y2="49" stroke="#bdbdbd" stroke-width="1"/>
<text class="ax" x="1077.6" y="57.5" textLength="33.0" lengthAdjust="spacingAndGlyphs">3000.0</text>
<line x1="1041.5" y1="54" x2="1044.1" y2="54" stroke="#bdbdbd" stroke-width="1"/>
<text class="ax" x="1077.6" y="64.1" textLength="33.0" lengthAdjust="spacingAndGlyphs">2500.0</text>
<line x1="1041.5" y1="60.6" x2="1044.1" y2="60.6" stroke="#bdbdbd" stroke-width="1"/>
<text class="ax" x="1077.6" y="71.3" textLength="33.0" lengthAdjust="spacingAndGlyphs">2000.0</text>
<line x1="1041.5" y1="67.8" x2="1044.1" y2="67.8" stroke="#bdbdbd" stroke-width="1"/>
<text class="ax" x="1077.6" y="80.0" textLength="33.0" lengthAdjust="spacingAndGlyphs">1500.0</text>
<line x1="1041.5" y1="76.5" x2="1044.1" y2="76.5" stroke="#bdbdbd" stroke-width="1"/>
<text class="ax" x="1077.6" y="92.9" textLength="33.0" lengthAdjust="spacingAndGlyphs">1000.0</text>
<line x1="1041.5" y1="89.4" x2="1044.1" y2="89.4" stroke="#bdbdbd" stroke-width="1"/>
<text class="ax" x="1077.6" y="113.9" textLength="27.0" lengthAdjust="spacingAndGlyphs">500.0</text>
<line x1="1041.5" y1="110.4" x2="1044.1" y2="110.4" stroke="#bdbdbd" stroke-width="1"/>
<text class="ax" x="1077.6" y="158.3" textLength="27.0" lengthAdjust="spacingAndGlyphs">125.0</text>
<line x1="1041.5" y1="154.8" x2="1044.1" y2="154.8" stroke="#bdbdbd" stroke-width="1"/>
<text class="ax" x="1077.6" y="180.0" textLength="21.0" lengthAdjust="spacingAndGlyphs">62.5</text>
<line x1="1041.5" y1="176.5" x2="1044.1" y2="176.5" stroke="#bdbdbd" stroke-width="1"/>
<text class="ax" x="1083.6" y="193.5" textLength="39.0" lengthAdjust="spacingAndGlyphs">2500.00</text>
<line x1="1041.5" y1="190" x2="1044.1" y2="190" stroke="#bdbdbd" stroke-width="1"/>
<text class="ax" x="1083.6" y="204.0" textLength="39.0" lengthAdjust="spacingAndGlyphs">2250.00</text>
<line x1="1041.5" y1="200.5" x2="1044.1" y2="200.5" stroke="#bdbdbd" stroke-width="1"/>
<text class="ax" x="1083.6" y="208.3" textLength="39.0" lengthAdjust="spacingAndGlyphs">2000.00</text>
<line x1="1041.5" y1="204.8" x2="1044.1" y2="204.8" stroke="#bdbdbd" stroke-width="1"/>
<text class="ax" x="1083.6" y="212.9" textLength="39.0" lengthAdjust="spacingAndGlyphs">1750.00</text>
<line x1="1041.5" y1="209.4" x2="1044.1" y2="209.4" stroke="#bdbdbd" stroke-width="1"/>
<text class="ax" x="1083.6" y="219.1" textLength="39.0" lengthAdjust="spacingAndGlyphs">1500.00</text>
<line x1="1041.5" y1="215.6" x2="1044.1" y2="215.6" stroke="#bdbdbd" stroke-width="1"/>
<text class="ax" x="1083.6" y="227.0" textLength="39.0" lengthAdjust="spacingAndGlyphs">1250.00</text>
<line x1="1041.5" y1="223.5" x2="1044.1" y2="223.5" stroke="#bdbdbd" stroke-width="1"/>
<text class="ax" x="1083.6" y="235.4" textLength="39.0" lengthAdjust="spacingAndGlyphs">1000.00</text>
<line x1="1041.5" y1="231.9" x2="1044.1" y2="231.9" stroke="#bdbdbd" stroke-width="1"/>
<text class="ax" x="1083.6" y="247.2" textLength="33.0" lengthAdjust="spacingAndGlyphs">750.00</text>
<line x1="1041.5" y1="243.7" x2="1044.1" y2="243.7" stroke="#bdbdbd" stroke-width="1"/>
<text class="ax" x="1083.6" y="263.2" textLength="33.0" lengthAdjust="spacingAndGlyphs">500.00</text>
<line x1="1041.5" y1="259.7" x2="1044.1" y2="259.7" stroke="#bdbdbd" stroke-width="1"/>
<text class="ax" x="1083.6" y="290.0" textLength="33.0" lengthAdjust="spacingAndGlyphs">250.00</text>
<line x1="1041.5" y1="286.5" x2="1044.1" y2="286.5" stroke="#bdbdbd" stroke-width="1"/>
<text class="ax" x="1083.6" y="345.4" textLength="27.0" lengthAdjust="spacingAndGlyphs">62.50</text>
<line x1="1041.5" y1="341.9" x2="1044.1" y2="341.9" stroke="#bdbdbd" stroke-width="1"/>
<text class="ax" x="1083.6" y="371.1" textLength="27.0" lengthAdjust="spacingAndGlyphs">31.25</text>
<line x1="1041.5" y1="367.6" x2="1044.1" y2="367.6" stroke="#bdbdbd" stroke-width="1"/>
<text class="ax" x="1068.6" y="377.0" textLength="24.0" lengthAdjust="spacingAndGlyphs">1800</text>
<line x1="1041.5" y1="373.5" x2="1044.1" y2="373.5" stroke="#bdbdbd" stroke-width="1"/>
<text class="ax" x="1068.6" y="382.2" textLength="24.0" lengthAdjust="spacingAndGlyphs">1600</text>
<line x1="1041.5" y1="378.7" x2="1044.1" y2="378.7" stroke="#bdbdbd" stroke-width="1"/>
<text class="ax" x="1068.6" y="387.9" textLength="24.0" lengthAdjust="spacingAndGlyphs">1400</text>
<line x1="1041.5" y1="384.4" x2="1044.1" y2="384.4" stroke="#bdbdbd" stroke-width="1"/>
<text class="ax" x="1068.6" y="395.0" textLength="24.0" lengthAdjust="spacingAndGlyphs">1200</text>
<line x1="1041.5" y1="391.5" x2="1044.1" y2="391.5" stroke="#bdbdbd" stroke-width="1"/>
<text class="ax" x="1068.6" y="403.5" textLength="24.0" lengthAdjust="spacingAndGlyphs">1000</text>
<line x1="1041.5" y1="400" x2="1044.1" y2="400" stroke="#bdbdbd" stroke-width="1"/>
<text class="ax" x="1068.6" y="412.9" textLength="18.0" lengthAdjust="spacingAndGlyphs">800</text>
<line x1="1041.5" y1="409.4" x2="1044.1" y2="409.4" stroke="#bdbdbd" stroke-width="1"/>
<text class="ax" x="1068.6" y="424.2" textLength="18.0" lengthAdjust="spacingAndGlyphs">600</text>
<line x1="1041.5" y1="420.7" x2="1044.1" y2="420.7" stroke="#bdbdbd" stroke-width="1"/>
<text class="ax" x="1068.6" y="442.1" textLength="18.0" lengthAdjust="spacingAndGlyphs">400</text>
<line x1="1041.5" y1="438.6" x2="1044.1" y2="438.6" stroke="#bdbdbd" stroke-width="1"/>
<text class="ax" x="1068.6" y="472.6" textLength="18.0" lengthAdjust="spacingAndGlyphs">200</text>
<line x1="1041.5" y1="469.1" x2="1044.1" y2="469.1" stroke="#bdbdbd" stroke-width="1"/>
<text class="ax" x="1068.6" y="532.5" textLength="12.0" lengthAdjust="spacingAndGlyphs">50</text>
<line x1="1041.5" y1="529" x2="1044.1" y2="529" stroke="#bdbdbd" stroke-width="1"/>
<text class="ax" x="1066.0" y="563.5" textLength="21.0" lengthAdjust="spacingAndGlyphs">65.0</text>
<line x1="1041.5" y1="560" x2="1044.1" y2="560" stroke="#bdbdbd" stroke-width="1"/>
<text class="ax" x="1066.0" y="567.9" textLength="21.0" lengthAdjust="spacingAndGlyphs">60.0</text>
<line x1="1041.5" y1="564.4" x2="1044.1" y2="564.4" stroke="#bdbdbd" stroke-width="1"/>
<text class="ax" x="1066.0" y="573.5" textLength="21.0" lengthAdjust="spacingAndGlyphs">55.0</text>
<line x1="1041.5" y1="570" x2="1044.1" y2="570" stroke="#bdbdbd" stroke-width="1"/>
<text class="ax" x="1066.0" y="579.7" textLength="21.0" lengthAdjust="spacingAndGlyphs">50.0</text>
<line x1="1041.5" y1="576.2" x2="1044.1" y2="576.2" stroke="#bdbdbd" stroke-width="1"/>
<text class="ax" x="1066.0" y="586.0" textLength="21.0" lengthAdjust="spacingAndGlyphs">45.0</text>
<line x1="1041.5" y1="582.5" x2="1044.1" y2="582.5" stroke="#bdbdbd" stroke-width="1"/>
<text class="ax" x="1066.0" y="592.9" textLength="21.0" lengthAdjust="spacingAndGlyphs">40.0</text>
<line x1="1041.5" y1="589.4" x2="1044.1" y2="589.4" stroke="#bdbdbd" stroke-width="1"/>
<text class="ax" x="1066.0" y="601.0" textLength="21.0" lengthAdjust="spacingAndGlyphs">35.0</text>
<line x1="1041.5" y1="597.5" x2="1044.1" y2="597.5" stroke="#bdbdbd" stroke-width="1"/>
<text class="ax" x="1066.0" y="610.4" textLength="21.0" lengthAdjust="spacingAndGlyphs">30.0</text>
<line x1="1041.5" y1="606.9" x2="1044.1" y2="606.9" stroke="#bdbdbd" stroke-width="1"/>
<text class="ax" x="1066.0" y="621.5" textLength="21.0" lengthAdjust="spacingAndGlyphs">25.0</text>
<line x1="1041.5" y1="618" x2="1044.1" y2="618" stroke="#bdbdbd" stroke-width="1"/>
<text class="ax" x="1066.0" y="634.1" textLength="21.0" lengthAdjust="spacingAndGlyphs">20.0</text>
<line x1="1041.5" y1="630.6" x2="1044.1" y2="630.6" stroke="#bdbdbd" stroke-width="1"/>
<text class="ax" x="1066.0" y="651.3" textLength="21.0" lengthAdjust="spacingAndGlyphs">15.0</text>
<line x1="1041.5" y1="647.8" x2="1044.1" y2="647.8" stroke="#bdbdbd" stroke-width="1"/>
<text class="ax" x="1066.0" y="674.8" textLength="21.0" lengthAdjust="spacingAndGlyphs">10.0</text>
<line x1="1041.5" y1="671.3" x2="1044.1" y2="671.3" stroke="#bdbdbd" stroke-width="1"/>
<text class="ax" x="1066.0" y="716.0" textLength="15.0" lengthAdjust="spacingAndGlyphs">5.0</text>
<line x1="1041.5" y1="712.5" x2="1044.1" y2="712.5" stroke="#bdbdbd" stroke-width="1"/>
<line x1="1041.5" y1="182.8" x2="1043.3" y2="182.8" stroke="#c8c8c8" stroke-width="1"/>
<line x1="1041.5" y1="177.1" x2="1043.3" y2="177.1" stroke="#c8c8c8" stroke-width="1"/>
<line x1="1041.5" y1="172.3" x2="1043.3" y2="172.3" stroke="#c8c8c8" stroke-width="1"/>
<line x1="1041.5" y1="168.1" x2="1043.3" y2="168.1" stroke="#c8c8c8" stroke-width="1"/>
<line x1="1041.5" y1="164.4" x2="1043.3" y2="164.4" stroke="#c8c8c8" stroke-width="1"/>
<line x1="1041.5" y1="161.2" x2="1043.3" y2="161.2" stroke="#c8c8c8" stroke-width="1"/>
<line x1="1041.5" y1="139.6" x2="1043.3" y2="139.6" stroke="#c8c8c8" stroke-width="1"/>
<line x1="1041.5" y1="126.9" x2="1043.3" y2="126.9" stroke="#c8c8c8" stroke-width="1"/>
<line x1="1041.5" y1="118.0" x2="1043.3" y2="118.0" stroke="#c8c8c8" stroke-width="1"/>
<line x1="1041.5" y1="111.0" x2="1043.3" y2="111.0" stroke="#c8c8c8" stroke-width="1"/>
<line x1="1041.5" y1="105.3" x2="1043.3" y2="105.3" stroke="#c8c8c8" stroke-width="1"/>
<line x1="1041.5" y1="100.5" x2="1043.3" y2="100.5" stroke="#c8c8c8" stroke-width="1"/>
<line x1="1041.5" y1="96.4" x2="1043.3" y2="96.4" stroke="#c8c8c8" stroke-width="1"/>
<line x1="1041.5" y1="92.7" x2="1043.3" y2="92.7" stroke="#c8c8c8" stroke-width="1"/>
<line x1="1041.5" y1="89.4" x2="1043.3" y2="89.4" stroke="#c8c8c8" stroke-width="1"/>
<line x1="1041.5" y1="67.8" x2="1043.3" y2="67.8" stroke="#c8c8c8" stroke-width="1"/>
<line x1="1041.5" y1="55.2" x2="1043.3" y2="55.2" stroke="#c8c8c8" stroke-width="1"/>
<line x1="1041.5" y1="46.2" x2="1043.3" y2="46.2" stroke="#c8c8c8" stroke-width="1"/>
<line x1="1041.5" y1="39.2" x2="1043.3" y2="39.2" stroke="#c8c8c8" stroke-width="1"/>
<line x1="1041.5" y1="33.6" x2="1043.3" y2="33.6" stroke="#c8c8c8" stroke-width="1"/>
<line x1="1041.5" y1="369.8" x2="1043.3" y2="369.8" stroke="#c8c8c8" stroke-width="1"/>
<line x1="1041.5" y1="358.5" x2="1043.3" y2="358.5" stroke="#c8c8c8" stroke-width="1"/>
<line x1="1041.5" y1="349.7" x2="1043.3" y2="349.7" stroke="#c8c8c8" stroke-width="1"/>
<line x1="1041.5" y1="342.5" x2="1043.3" y2="342.5" stroke="#c8c8c8" stroke-width="1"/>
<line x1="1041.5" y1="336.5" x2="1043.3" y2="336.5" stroke="#c8c8c8" stroke-width="1"/>
<line x1="1041.5" y1="331.2" x2="1043.3" y2="331.2" stroke="#c8c8c8" stroke-width="1"/>
<line x1="1041.5" y1="326.6" x2="1043.3" y2="326.6" stroke="#c8c8c8" stroke-width="1"/>
<line x1="1041.5" y1="322.5" x2="1043.3" y2="322.5" stroke="#c8c8c8" stroke-width="1"/>
<line x1="1041.5" y1="295.2" x2="1043.3" y2="295.2" stroke="#c8c8c8" stroke-width="1"/>
<line x1="1041.5" y1="279.2" x2="1043.3" y2="279.2" stroke="#c8c8c8" stroke-width="1"/>
<line x1="1041.5" y1="267.9" x2="1043.3" y2="267.9" stroke="#c8c8c8" stroke-width="1"/>
<line x1="1041.5" y1="259.2" x2="1043.3" y2="259.2" stroke="#c8c8c8" stroke-width="1"/>
<line x1="1041.5" y1="252.0" x2="1043.3" y2="252.0" stroke="#c8c8c8" stroke-width="1"/>
<line x1="1041.5" y1="245.9" x2="1043.3" y2="245.9" stroke="#c8c8c8" stroke-width="1"/>
<line x1="1041.5" y1="240.7" x2="1043.3" y2="240.7" stroke="#c8c8c8" stroke-width="1"/>
<line x1="1041.5" y1="236.0" x2="1043.3" y2="236.0" stroke="#c8c8c8" stroke-width="1"/>
<line x1="1041.5" y1="231.9" x2="1043.3" y2="231.9" stroke="#c8c8c8" stroke-width="1"/>
<line x1="1041.5" y1="204.6" x2="1043.3" y2="204.6" stroke="#c8c8c8" stroke-width="1"/>
<line x1="1041.5" y1="552.6" x2="1043.3" y2="552.6" stroke="#c8c8c8" stroke-width="1"/>
<line x1="1041.5" y1="539.9" x2="1043.3" y2="539.9" stroke="#c8c8c8" stroke-width="1"/>
<line x1="1041.5" y1="530.1" x2="1043.3" y2="530.1" stroke="#c8c8c8" stroke-width="1"/>
<line x1="1041.5" y1="522.1" x2="1043.3" y2="522.1" stroke="#c8c8c8" stroke-width="1"/>
<line x1="1041.5" y1="515.3" x2="1043.3" y2="515.3" stroke="#c8c8c8" stroke-width="1"/>
<line x1="1041.5" y1="509.4" x2="1043.3" y2="509.4" stroke="#c8c8c8" stroke-width="1"/>
<line x1="1041.5" y1="504.2" x2="1043.3" y2="504.2" stroke="#c8c8c8" stroke-width="1"/>
<line x1="1041.5" y1="499.6" x2="1043.3" y2="499.6" stroke="#c8c8c8" stroke-width="1"/>
<line x1="1041.5" y1="469.1" x2="1043.3" y2="469.1" stroke="#c8c8c8" stroke-width="1"/>
<line x1="1041.5" y1="451.3" x2="1043.3" y2="451.3" stroke="#c8c8c8" stroke-width="1"/>
<line x1="1041.5" y1="438.6" x2="1043.3" y2="438.6" stroke="#c8c8c8" stroke-width="1"/>
<line x1="1041.5" y1="428.8" x2="1043.3" y2="428.8" stroke="#c8c8c8" stroke-width="1"/>
<line x1="1041.5" y1="420.8" x2="1043.3" y2="420.8" stroke="#c8c8c8" stroke-width="1"/>
<line x1="1041.5" y1="414.0" x2="1043.3" y2="414.0" stroke="#c8c8c8" stroke-width="1"/>
<line x1="1041.5" y1="408.1" x2="1043.3" y2="408.1" stroke="#c8c8c8" stroke-width="1"/>
<line x1="1041.5" y1="402.9" x2="1043.3" y2="402.9" stroke="#c8c8c8" stroke-width="1"/>
<line x1="1041.5" y1="398.3" x2="1043.3" y2="398.3" stroke="#c8c8c8" stroke-width="1"/>
<line x1="1041.5" y1="766.7" x2="1043.3" y2="766.7" stroke="#c8c8c8" stroke-width="1"/>
<line x1="1041.5" y1="742.7" x2="1043.3" y2="742.7" stroke="#c8c8c8" stroke-width="1"/>
<line x1="1041.5" y1="725.6" x2="1043.3" y2="725.6" stroke="#c8c8c8" stroke-width="1"/>
<line x1="1041.5" y1="712.4" x2="1043.3" y2="712.4" stroke="#c8c8c8" stroke-width="1"/>
<line x1="1041.5" y1="701.6" x2="1043.3" y2="701.6" stroke="#c8c8c8" stroke-width="1"/>
<line x1="1041.5" y1="692.4" x2="1043.3" y2="692.4" stroke="#c8c8c8" stroke-width="1"/>
<line x1="1041.5" y1="684.5" x2="1043.3" y2="684.5" stroke="#c8c8c8" stroke-width="1"/>
<line x1="1041.5" y1="677.5" x2="1043.3" y2="677.5" stroke="#c8c8c8" stroke-width="1"/>
<line x1="1041.5" y1="671.3" x2="1043.3" y2="671.3" stroke="#c8c8c8" stroke-width="1"/>
<line x1="1041.5" y1="630.2" x2="1043.3" y2="630.2" stroke="#c8c8c8" stroke-width="1"/>
<line x1="1041.5" y1="606.2" x2="1043.3" y2="606.2" stroke="#c8c8c8" stroke-width="1"/>
<line x1="1041.5" y1="589.1" x2="1043.3" y2="589.1" stroke="#c8c8c8" stroke-width="1"/>
<line x1="1041.5" y1="575.9" x2="1043.3" y2="575.9" stroke="#c8c8c8" stroke-width="1"/>
<line x1="1041.5" y1="565.1" x2="1043.3" y2="565.1" stroke="#c8c8c8" stroke-width="1"/>
<line x1="1041.5" y1="555.9" x2="1043.3" y2="555.9" stroke="#c8c8c8" stroke-width="1"/>
<polygon points="1039.6,36.2 1043.6,30.900000000000002 1085,30.900000000000002 1085,41.5 1043.6,41.5" fill="#fff" stroke="#000" stroke-width="1.2"/>
<text class="lb" x="1044.4" y="39.900000000000006" textLength="39" lengthAdjust="spacingAndGlyphs">5503.41</text>
<polygon points="1039.6,195.2 1043.6,189.89999999999998 1085,189.89999999999998 1085,200.5 1043.6,200.5" fill="#fff" stroke="#000" stroke-width="1.2"/>
<text class="lb" x="1044.4" y="198.89999999999998" textLength="39" lengthAdjust="spacingAndGlyphs">2543.10</text>
<polygon points="1039.6,401 1043.6,395.7 1078.7,395.7 1078.7,406.3 1043.6,406.3" fill="#fff" stroke="#000" stroke-width="1.2"/>
<text class="lb" x="1044.4" y="404.7" textLength="33" lengthAdjust="spacingAndGlyphs">975.30</text>
<polygon points="1039.6,740.3 1043.6,734.6999999999999 1066.8,734.6999999999999 1066.8,745.9 1043.6,745.9" fill="#fff" stroke="#00008c" stroke-width="1.2"/>
<polygon points="1039.6,737.7 1043.6,732.1 1066.8,732.1 1066.8,743.3000000000001 1043.6,743.3000000000001" fill="#fff" stroke="#00008c" stroke-width="1.2"/>
<text class="lb" x="1044.4" y="741.4000000000001" textLength="21" lengthAdjust="spacingAndGlyphs">3.31</text>
<text class="yr" x="42.5" y="794.3" textLength="12" lengthAdjust="spacingAndGlyphs">62</text>
<text class="yr" x="73.4" y="794.3" textLength="12" lengthAdjust="spacingAndGlyphs">64</text>
<text class="yr" x="104.3" y="794.3" textLength="12" lengthAdjust="spacingAndGlyphs">66</text>
<text class="yr" x="135.2" y="794.3" textLength="12" lengthAdjust="spacingAndGlyphs">68</text>
<text class="yr" x="166.1" y="794.3" textLength="12" lengthAdjust="spacingAndGlyphs">70</text>
<text class="yr" x="197.0" y="794.3" textLength="12" lengthAdjust="spacingAndGlyphs">72</text>
<text class="yr" x="227.9" y="794.3" textLength="12" lengthAdjust="spacingAndGlyphs">74</text>
<text class="yr" x="258.8" y="794.3" textLength="12" lengthAdjust="spacingAndGlyphs">76</text>
<text class="yr" x="289.7" y="794.3" textLength="12" lengthAdjust="spacingAndGlyphs">78</text>
<text class="yr" x="320.6" y="794.3" textLength="12" lengthAdjust="spacingAndGlyphs">80</text>
<text class="yr" x="351.5" y="794.3" textLength="12" lengthAdjust="spacingAndGlyphs">82</text>
<text class="yr" x="382.4" y="794.3" textLength="12" lengthAdjust="spacingAndGlyphs">84</text>
<text class="yr" x="413.3" y="794.3" textLength="12" lengthAdjust="spacingAndGlyphs">86</text>
<text class="yr" x="444.2" y="794.3" textLength="12" lengthAdjust="spacingAndGlyphs">88</text>
<text class="yr" x="475.1" y="794.3" textLength="12" lengthAdjust="spacingAndGlyphs">90</text>
<text class="yr" x="506.0" y="794.3" textLength="12" lengthAdjust="spacingAndGlyphs">92</text>
<text class="yr" x="536.9" y="794.3" textLength="12" lengthAdjust="spacingAndGlyphs">94</text>
<text class="yr" x="567.8" y="794.3" textLength="12" lengthAdjust="spacingAndGlyphs">96</text>
<text class="yr" x="598.7" y="794.3" textLength="12" lengthAdjust="spacingAndGlyphs">98</text>
<text class="yr" x="629.6" y="794.3" textLength="12" lengthAdjust="spacingAndGlyphs">00</text>
<text class="yr" x="660.5" y="794.3" textLength="12" lengthAdjust="spacingAndGlyphs">02</text>
<text class="yr" x="691.4" y="794.3" textLength="12" lengthAdjust="spacingAndGlyphs">04</text>
<text class="yr" x="722.3" y="794.3" textLength="12" lengthAdjust="spacingAndGlyphs">06</text>
<text class="yr" x="753.2" y="794.3" textLength="12" lengthAdjust="spacingAndGlyphs">08</text>
<text class="yr" x="784.1" y="794.3" textLength="12" lengthAdjust="spacingAndGlyphs">10</text>
<text class="yr" x="815.0" y="794.3" textLength="12" lengthAdjust="spacingAndGlyphs">12</text>
<text class="yr" x="845.9" y="794.3" textLength="12" lengthAdjust="spacingAndGlyphs">14</text>
<text class="yr" x="876.8" y="794.3" textLength="12" lengthAdjust="spacingAndGlyphs">16</text>
<text class="yr" x="907.7" y="794.3" textLength="12" lengthAdjust="spacingAndGlyphs">18</text>
<text class="yr" x="938.6" y="794.3" textLength="12" lengthAdjust="spacingAndGlyphs">20</text>
<text class="yr" x="969.5" y="794.3" textLength="12" lengthAdjust="spacingAndGlyphs">22</text>
<text class="yr" x="1000.4" y="794.3" textLength="12" lengthAdjust="spacingAndGlyphs">24</text>
<text class="yr" x="1031.3" y="794.3" textLength="12" lengthAdjust="spacingAndGlyphs">26</text>
</svg></body></html>
